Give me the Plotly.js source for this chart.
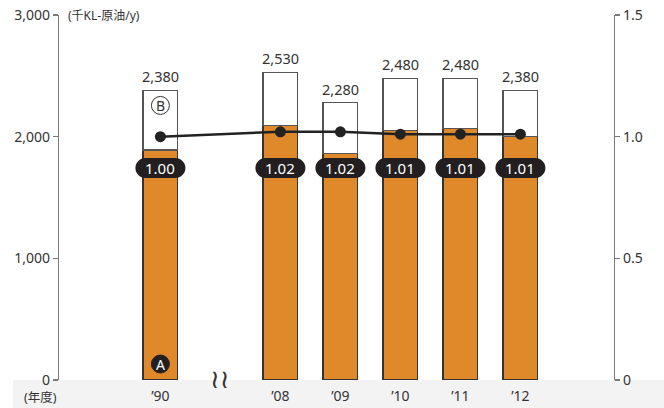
<!DOCTYPE html>
<html><head><meta charset="utf-8">
<script src="https://cdn.plot.ly/plotly-3.0.1.min.js"></script>
<style>html,body{margin:0;padding:0;background:#fff}#chart{width:664px;height:408px}</style>
</head><body><div id="chart"></div>
<script>
// ---- data ----
const positions = [0, 2, 3, 4, 5, 6];
const yearLabels = ["’90", "’08", "’09", "’10", "’11", "’12"];
const totals = [2380, 2530, 2280, 2480, 2480, 2380];
const partA = [1890, 2090, 1860, 2050, 2070, 2000];
const ratio = [1.00, 1.02, 1.02, 1.01, 1.01, 1.01];
const leftTicks = [0, 1000, 2000, 3000];
const leftTickText = ["0", "1,000", "2,000", "3,000"];
const rightTicks = [0, 0.5, 1.0, 1.5];
const rightTickText = ["0", "0.5", "1.0", "1.5"];
const unitLabel = "(千KL-原油/y)";
const yearUnit = "(年度)";
const breakPos = 1;

const FONT = '"Noto Sans", "Noto Sans CJK JP", sans-serif';
const TXT = '#333333';
const ORANGE = '#E0892A';
const partB = totals.map((t, i) => t - partA[i]);

const traces = [
  {type: 'bar', x: positions, y: partA, width: 0.58, marker: {color: ORANGE, line: {color: '#333', width: 1.2}}, hoverinfo: 'skip'},
  {type: 'bar', x: positions, y: partB, width: 0.58, marker: {color: '#ffffff', line: {color: '#555', width: 1.2}}, hoverinfo: 'skip'},
  {type: 'scatter', mode: 'lines+markers', x: positions, y: ratio, yaxis: 'y2', line: {color: '#222', width: 2.5}, marker: {color: '#222', size: 11}, hoverinfo: 'skip'}
];

const shapes = [
  {type: 'rect', xref: 'paper', yref: 'paper', x0: -0.083, x1: 1.1, y0: -0.08, y1: 0, fillcolor: '#f3f3f3', line: {width: 0}, layer: 'below'}
];
const pillPath = 'M -15,-10 L 15,-10 C 20.5,-10 25,-5.5 25,0 C 25,5.5 20.5,10 15,10 L -15,10 C -20.5,10 -25,5.5 -25,0 C -25,-5.5 -20.5,-10 -15,-10 Z';
const annotations = [];
positions.forEach((p, i) => {
  shapes.push({type: 'path', xref: 'x', yref: 'paper', xsizemode: 'pixel', ysizemode: 'pixel', xanchor: p, yanchor: 0.581, path: pillPath, fillcolor: '#231f20', line: {width: 0}, layer: 'above'});
  annotations.push({x: p, y: 0.581, xref: 'x', yref: 'paper', text: ratio[i].toFixed(2), showarrow: false, font: {family: FONT, size: 15, color: '#fff'}, yanchor: 'middle'});
  annotations.push({x: p, y: totals[i], xref: 'x', yref: 'y', text: totals[i].toLocaleString('en-US'), showarrow: false, font: {family: FONT, size: 14.5, color: TXT}, yanchor: 'bottom', yshift: 2});
});
// circled A and B markers on the first bar
shapes.push({type: 'circle', xref: 'x', yref: 'y', xsizemode: 'pixel', ysizemode: 'pixel', xanchor: positions[0], yanchor: 0, x0: -9, x1: 9, y0: 7, y1: 25, fillcolor: '#231f20', line: {color: '#231f20', width: 1}});
annotations.push({x: positions[0], y: 0, xref: 'x', yref: 'y', text: 'A', showarrow: false, font: {family: FONT, size: 14, color: '#fff'}, yanchor: 'middle', yshift: 16});
shapes.push({type: 'circle', xref: 'x', yref: 'y', xsizemode: 'pixel', ysizemode: 'pixel', xanchor: positions[0], yanchor: totals[0], x0: -9, x1: 9, y0: -24, y1: -6, fillcolor: '#fff', line: {color: '#333', width: 1}});
annotations.push({x: positions[0], y: totals[0], xref: 'x', yref: 'y', text: 'B', showarrow: false, font: {family: FONT, size: 14, color: TXT}, yanchor: 'middle', yshift: -15});
// unit labels
annotations.push({x: 0.013, y: 1, xref: 'paper', yref: 'paper', text: unitLabel, showarrow: false, xanchor: 'left', yanchor: 'middle', font: {family: FONT, size: 12, color: TXT}});
annotations.push({x: -0.034, y: -0.047, xref: 'paper', yref: 'paper', text: yearUnit, showarrow: false, xanchor: 'center', yanchor: 'middle', font: {family: FONT, size: 12.5, color: TXT}});
// axis break mark
annotations.push({x: breakPos, y: 0, xref: 'x', yref: 'y', text: '≀≀', showarrow: false, xanchor: 'center', yanchor: 'middle', yshift: 1, font: {family: '"DejaVu Sans"', size: 26, color: '#333'}});

const layout = {
  width: 664, height: 408,
  margin: {l: 59, r: 50, t: 15, b: 28, pad: 0},
  paper_bgcolor: '#fff', plot_bgcolor: 'rgba(0,0,0,0)',
  barmode: 'stack', showlegend: false,
  font: {family: FONT, color: TXT, size: 14},
  xaxis: {range: [-1.69, 7.56], tickvals: positions, ticktext: yearLabels, showgrid: false, zeroline: false, showline: false, ticks: '', ticklabelstandoff: 6, tickfont: {family: FONT, size: 14, color: TXT}, fixedrange: true},
  yaxis: {range: [0, 3000], tickvals: leftTicks, ticktext: leftTickText, showgrid: false, zeroline: false, showline: true, linecolor: '#7a7a7a', linewidth: 1.2, ticks: 'outside', ticklen: 5, tickcolor: '#7a7a7a', tickwidth: 1.2, tickfont: {family: FONT, size: 14, color: TXT}},
  yaxis2: {range: [0, 1.5], overlaying: 'y', side: 'right', tickvals: rightTicks, ticktext: rightTickText, showgrid: false, zeroline: false, showline: true, linecolor: '#7a7a7a', linewidth: 1.2, ticks: 'outside', ticklen: 5, tickcolor: '#7a7a7a', tickwidth: 1.2, tickfont: {family: FONT, size: 14, color: TXT}},
  shapes: shapes,
  annotations: annotations
};
Plotly.newPlot('chart', traces, layout, {displayModeBar: false, staticPlot: true});
</script></body></html>
